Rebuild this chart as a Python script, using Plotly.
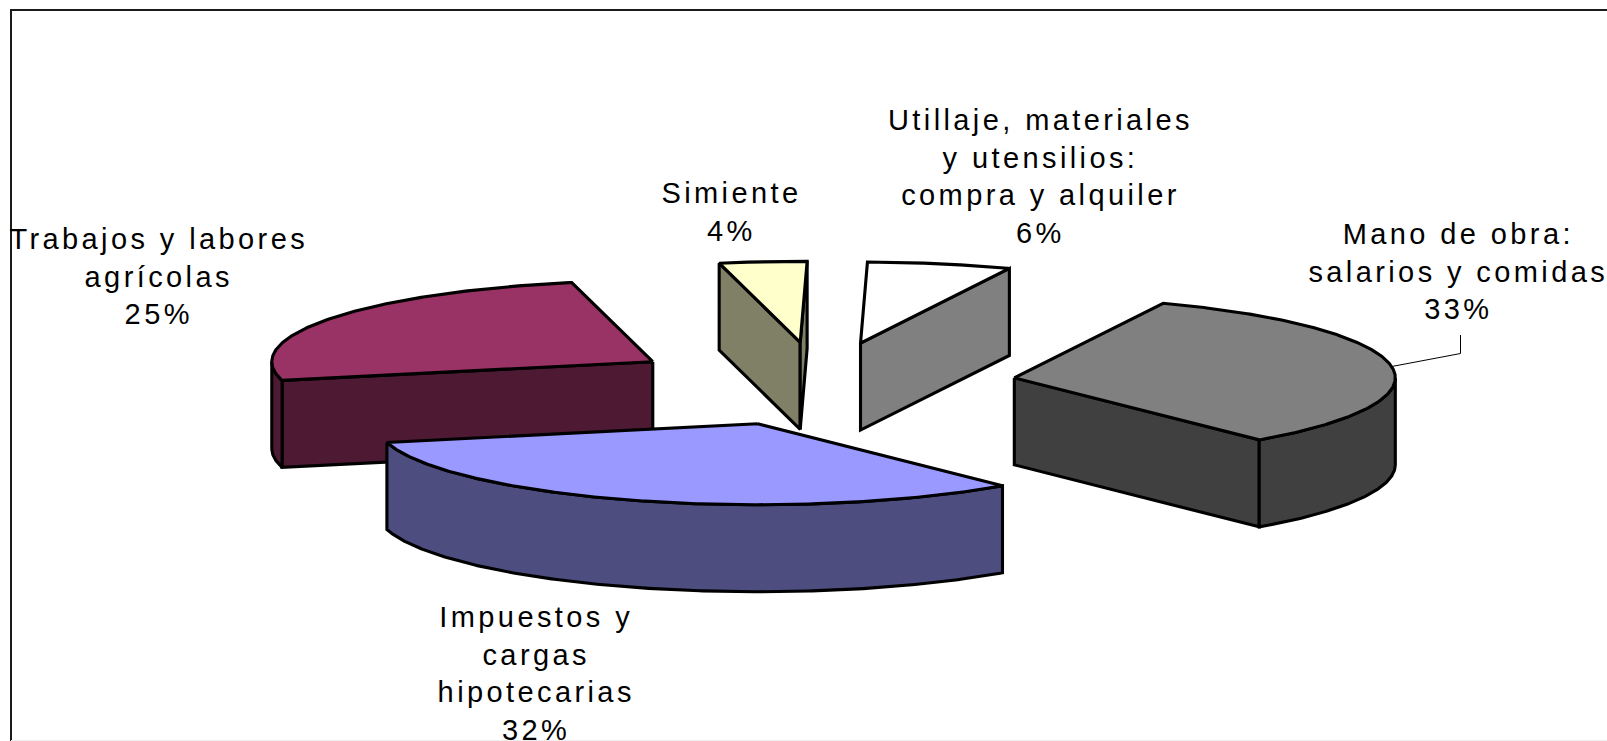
import numpy as np
import plotly.graph_objects as go

# Data, in pie order (counter-clockwise from the front right)
categories = ["Mano de obra", "Utillaje", "Simiente", "Trabajos", "Impuestos"]
shares = [32.5, 6.1, 3.7, 25.3, 32.4]
label_lines = [
    ["Mano de obra:", "salarios y comidas"],
    ["Utillaje, materiales", "y utensilios:", "compra y alquiler"],
    ["Simiente"],
    ["Trabajos y labores", "agrícolas"],
    ["Impuestos y", "cargas", "hipotecarias"],
]
top_colors = ["#808080", "#FFFFFF", "#FFFFCC", "#993366", "#9999FF"]
side_colors = ["#404040", "#808080", "#808066", "#4D1933", "#4D4D80"]
label_centers = [(1458, 216), (1040, 102), (731, 175), (158, 221), (536, 599)]

# Pie geometry in page pixels
W, H = 1607, 741
CX, CY = 819.5, 384.0
RX, RY = 381.0, 81.0
DEPTH = 87.0
EXPLODE = 0.517
START_DEG = -50.0
FONT_SIZE = 29
LINE_W = 3.1

fig = go.Figure()


def add_poly(xs, ys, fill, width=LINE_W):
    fig.add_trace(go.Scatter(
        x=list(xs) + [xs[0]], y=list(ys) + [ys[0]], mode="lines", fill="toself",
        fillcolor=fill, line=dict(color="black", width=width),
        hoverinfo="skip", showlegend=False,
    ))


# Compute every slice's angular span from the shares
edges = START_DEG + np.concatenate([[0], np.cumsum(shares)]) * 3.6
slices = []
for i in range(len(shares)):
    t0, t1 = np.radians(edges[i]), np.radians(edges[i + 1])
    mid = (t0 + t1) / 2
    ax = CX + EXPLODE * RX * np.cos(mid)
    ay = CY - EXPLODE * RY * np.sin(mid)
    slices.append((i, t0, t1, ax, ay))

# Painter's order, back to front
for i in [1, 2, 0, 3, 4]:
    _, t0, t1, ax, ay = slices[i]
    rim = lambda t: (ax + RX * np.cos(t), ay - RY * np.sin(t))
    # radial walls
    for t, visible in ((t1, np.cos(t1) < 0), (t0, np.cos(t0) > 0)):
        if visible:
            x, y = rim(t)
            add_poly([ax, x, x, ax], [ay, y, y + DEPTH, ay + DEPTH], side_colors[i])
    # curved outer wall: only the part facing the viewer
    ts = np.linspace(t0, t1, 240)
    ts = ts[np.sin(ts) <= 0]
    if len(ts) > 1:
        xr, yr = rim(ts)
        add_poly(np.r_[xr, xr[::-1]], np.r_[yr, (yr + DEPTH)[::-1]], side_colors[i])
    # top face
    ts = np.linspace(t0, t1, 240)
    xr, yr = rim(ts)
    add_poly(np.r_[ax, xr], np.r_[ay, yr], top_colors[i])

# Leader line for the first label
lx, ly = slices[0][3] + RX * np.cos(np.radians(8)), slices[0][4] - RY * np.sin(np.radians(8))
fig.add_trace(go.Scatter(x=[lx, 1460.5, 1460.5], y=[ly, 353.5, 335], mode="lines",
                         line=dict(color="black", width=1), hoverinfo="skip", showlegend=False))

# Labels
for lines, share, (x, y) in zip(label_lines, shares, label_centers):
    text = "<br>".join(lines + [f"{round(share + 1e-6)}%"])
    fig.add_annotation(x=x, y=y, xref="x", yref="y", yanchor="top", xanchor="center",
                       text=text, showarrow=False, align="center",
                       font=dict(family="Liberation Sans, Arial, sans-serif", size=FONT_SIZE, color="black"))

frame = dict(type="line", xref="x", yref="y", line=dict(color="#1a1a1a", width=2), layer="below")
fig.update_layout(
    width=W, height=H, margin=dict(l=0, r=0, t=0, b=0),
    paper_bgcolor="white", plot_bgcolor="white", showlegend=False,
    xaxis=dict(range=[0, W], visible=False, fixedrange=True),
    yaxis=dict(range=[H, 0], visible=False, fixedrange=True),
    shapes=[
        dict(frame, x0=10, y0=10, x1=W, y1=10),
        dict(frame, x0=11, y0=10, x1=11, y1=H),
        dict(type="line", xref="x", yref="y", x0=11, y0=740.5, x1=W, y1=740.5,
             line=dict(color="#eeeeee", width=1), layer="below"),
    ],
)

style_js = """
var s=document.createElement('style');
s.textContent='body{margin:0;overflow:hidden}.annotation-text{letter-spacing:3.4px}';
document.head.appendChild(s);
"""
fig.write_html("out.html", post_script=style_js, config={"displayModeBar": False})
